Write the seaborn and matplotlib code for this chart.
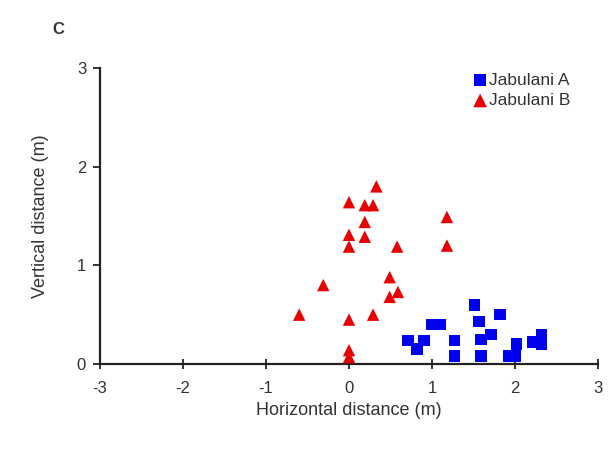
import matplotlib
matplotlib.use("Agg")
import matplotlib.pyplot as plt
import seaborn as sns
import pandas as pd

# Jabulani A (blue squares)
a_x = [0.71, 0.82, 0.90, 1.00, 1.10, 1.27, 1.27, 1.51, 1.57, 1.59, 1.59, 1.71, 1.82, 1.92, 2.02, 2.00, 2.22, 2.32, 2.32]
a_y = [0.24, 0.15, 0.24, 0.40, 0.40, 0.24, 0.08, 0.60, 0.43, 0.25, 0.08, 0.30, 0.50, 0.08, 0.20, 0.08, 0.22, 0.30, 0.20]

# Jabulani B (red triangles)
b_x = [0.33, 0.00, 0.19, 0.29, 0.19, 0.00, 0.19, 0.00, 0.58, 1.18, 1.18, 0.49, 0.59, 0.49, -0.31, -0.60, 0.00, 0.29, 0.00, 0.00]
b_y = [1.80, 1.64, 1.61, 1.61, 1.44, 1.31, 1.29, 1.19, 1.19, 1.49, 1.20, 0.88, 0.73, 0.68, 0.80, 0.50, 0.45, 0.50, 0.14, 0.07]

series_names = ["Jabulani A", "Jabulani B"]
x_ticks = [-3, -2, -1, 0, 1, 2, 3]
y_ticks = [0, 1, 2, 3]

df = pd.concat([
    pd.DataFrame({"x": a_x, "y": a_y, "ball": series_names[0]}),
    pd.DataFrame({"x": b_x, "y": b_y, "ball": series_names[1]}),
], ignore_index=True)

sns.set_theme(style="ticks")
plt.rcParams["font.family"] = ["Liberation Sans", "DejaVu Sans"]

fig = plt.figure(figsize=(6.13, 4.49), dpi=100)
ax = fig.add_axes([100 / 613, 1 - 364 / 449, 498 / 613, 296 / 449])

palette = {series_names[0]: "#0000f0", series_names[1]: "#e80000"}
markers = {series_names[0]: "s", series_names[1]: "^"}
for name in series_names:
    sub = df[df["ball"] == name]
    sns.scatterplot(data=sub, x="x", y="y", color=palette[name], marker=markers[name],
                    s=70 if name == series_names[0] else 80, edgecolor="none", linewidth=0,
                    ax=ax, label=name, clip_on=False, zorder=3)

ax.set_xlim(-3, 3)
ax.set_ylim(0, 3)
ax.set_xticks(x_ticks)
ax.set_yticks(y_ticks)
ax.set_xticklabels([str(t) for t in x_ticks])
ax.set_yticklabels([str(t) for t in y_ticks])
for s in ["top", "right"]:
    ax.spines[s].set_visible(False)
for s in ["left", "bottom"]:
    ax.spines[s].set_linewidth(1.6)
    ax.spines[s].set_color("#222222")
ax.tick_params(axis="both", length=5, width=1.3, color="#222222", labelsize=12, labelcolor="#333333", pad=5)
ax.tick_params(axis="x", direction="inout", length=7, pad=9)

ax.set_xlabel("Horizontal distance (m)", fontsize=13, color="#333333", labelpad=4)
ax.set_ylabel("Vertical distance (m)", fontsize=13, color="#333333", labelpad=20)

leg = ax.legend(loc="upper right", bbox_to_anchor=(0.965, 1.02), frameon=False, fontsize=12.5,
                handletextpad=0.0, borderaxespad=0.2, labelspacing=0.3, markerscale=1.1,
                handlelength=1.0)
for t in leg.get_texts():
    t.set_color("#333333")

fig.text(52 / 613, 1 - 30 / 449, "C", fontsize=12, fontweight="bold", color="#333333", va="center")

fig.savefig("out.png", dpi=100)
